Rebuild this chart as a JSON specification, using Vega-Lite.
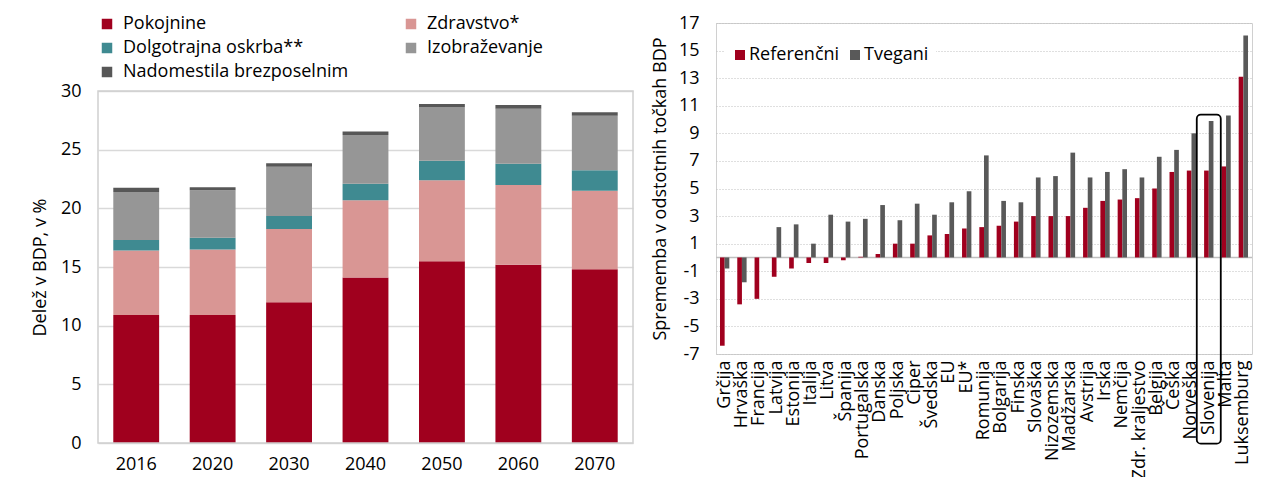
{
  "$schema": "https://vega.github.io/schema/vega-lite/v6.json",
  "padding": {"left": 31, "top": 13, "right": 0, "bottom": 0},
  "background": "white",
  "spacing": 16,
  "columns": 2,
  "config": {
    "font": "Open Sans",
    "view": {"stroke": "#d0d0d0"},
    "axis": {"labelFontSize": 18, "labelColor": "black", "titleFontSize": 18, "titleFontWeight": "normal", "titleColor": "black", "ticks": false, "domain": false},
    "legend": {"labelFontSize": 18, "labelColor": "black"}
  },
  "datasets": {
    "izdatki": [
      {"leto": "2016", "kategorija": "Pokojnine", "vrednost": 10.9},
      {"leto": "2016", "kategorija": "Zdravstvo*", "vrednost": 5.5},
      {"leto": "2016", "kategorija": "Dolgotrajna oskrba**", "vrednost": 0.9},
      {"leto": "2016", "kategorija": "Izobraževanje", "vrednost": 4.1},
      {"leto": "2016", "kategorija": "Nadomestila brezposelnim", "vrednost": 0.35},
      {"leto": "2020", "kategorija": "Pokojnine", "vrednost": 10.9},
      {"leto": "2020", "kategorija": "Zdravstvo*", "vrednost": 5.6},
      {"leto": "2020", "kategorija": "Dolgotrajna oskrba**", "vrednost": 1.0},
      {"leto": "2020", "kategorija": "Izobraževanje", "vrednost": 4.05},
      {"leto": "2020", "kategorija": "Nadomestila brezposelnim", "vrednost": 0.25},
      {"leto": "2030", "kategorija": "Pokojnine", "vrednost": 12.0},
      {"leto": "2030", "kategorija": "Zdravstvo*", "vrednost": 6.25},
      {"leto": "2030", "kategorija": "Dolgotrajna oskrba**", "vrednost": 1.1},
      {"leto": "2030", "kategorija": "Izobraževanje", "vrednost": 4.2},
      {"leto": "2030", "kategorija": "Nadomestila brezposelnim", "vrednost": 0.3},
      {"leto": "2040", "kategorija": "Pokojnine", "vrednost": 14.1},
      {"leto": "2040", "kategorija": "Zdravstvo*", "vrednost": 6.6},
      {"leto": "2040", "kategorija": "Dolgotrajna oskrba**", "vrednost": 1.4},
      {"leto": "2040", "kategorija": "Izobraževanje", "vrednost": 4.15},
      {"leto": "2040", "kategorija": "Nadomestila brezposelnim", "vrednost": 0.3},
      {"leto": "2050", "kategorija": "Pokojnine", "vrednost": 15.5},
      {"leto": "2050", "kategorija": "Zdravstvo*", "vrednost": 6.9},
      {"leto": "2050", "kategorija": "Dolgotrajna oskrba**", "vrednost": 1.65},
      {"leto": "2050", "kategorija": "Izobraževanje", "vrednost": 4.6},
      {"leto": "2050", "kategorija": "Nadomestila brezposelnim", "vrednost": 0.25},
      {"leto": "2060", "kategorija": "Pokojnine", "vrednost": 15.2},
      {"leto": "2060", "kategorija": "Zdravstvo*", "vrednost": 6.8},
      {"leto": "2060", "kategorija": "Dolgotrajna oskrba**", "vrednost": 1.8},
      {"leto": "2060", "kategorija": "Izobraževanje", "vrednost": 4.7},
      {"leto": "2060", "kategorija": "Nadomestila brezposelnim", "vrednost": 0.3},
      {"leto": "2070", "kategorija": "Pokojnine", "vrednost": 14.8},
      {"leto": "2070", "kategorija": "Zdravstvo*", "vrednost": 6.7},
      {"leto": "2070", "kategorija": "Dolgotrajna oskrba**", "vrednost": 1.75},
      {"leto": "2070", "kategorija": "Izobraževanje", "vrednost": 4.65},
      {"leto": "2070", "kategorija": "Nadomestila brezposelnim", "vrednost": 0.3}
    ],
    "spremembe": [
      {"drzava": "Grčija", "scenarij": "Referenčni", "vrednost": -6.4},
      {"drzava": "Grčija", "scenarij": "Tvegani", "vrednost": -0.8},
      {"drzava": "Hrvaška", "scenarij": "Referenčni", "vrednost": -3.4},
      {"drzava": "Hrvaška", "scenarij": "Tvegani", "vrednost": -1.8},
      {"drzava": "Francija", "scenarij": "Referenčni", "vrednost": -3.0},
      {"drzava": "Francija", "scenarij": "Tvegani", "vrednost": 0.0},
      {"drzava": "Latvija", "scenarij": "Referenčni", "vrednost": -1.4},
      {"drzava": "Latvija", "scenarij": "Tvegani", "vrednost": 2.2},
      {"drzava": "Estonija", "scenarij": "Referenčni", "vrednost": -0.8},
      {"drzava": "Estonija", "scenarij": "Tvegani", "vrednost": 2.4},
      {"drzava": "Italija", "scenarij": "Referenčni", "vrednost": -0.4},
      {"drzava": "Italija", "scenarij": "Tvegani", "vrednost": 1.0},
      {"drzava": "Litva", "scenarij": "Referenčni", "vrednost": -0.4},
      {"drzava": "Litva", "scenarij": "Tvegani", "vrednost": 3.1},
      {"drzava": "Španija", "scenarij": "Referenčni", "vrednost": -0.2},
      {"drzava": "Španija", "scenarij": "Tvegani", "vrednost": 2.6},
      {"drzava": "Portugalska", "scenarij": "Referenčni", "vrednost": 0.05},
      {"drzava": "Portugalska", "scenarij": "Tvegani", "vrednost": 2.8},
      {"drzava": "Danska", "scenarij": "Referenčni", "vrednost": 0.25},
      {"drzava": "Danska", "scenarij": "Tvegani", "vrednost": 3.8},
      {"drzava": "Poljska", "scenarij": "Referenčni", "vrednost": 1.0},
      {"drzava": "Poljska", "scenarij": "Tvegani", "vrednost": 2.7},
      {"drzava": "Ciper", "scenarij": "Referenčni", "vrednost": 1.0},
      {"drzava": "Ciper", "scenarij": "Tvegani", "vrednost": 3.9},
      {"drzava": "Švedska", "scenarij": "Referenčni", "vrednost": 1.6},
      {"drzava": "Švedska", "scenarij": "Tvegani", "vrednost": 3.1},
      {"drzava": "EU", "scenarij": "Referenčni", "vrednost": 1.7},
      {"drzava": "EU", "scenarij": "Tvegani", "vrednost": 4.0},
      {"drzava": "EU*", "scenarij": "Referenčni", "vrednost": 2.1},
      {"drzava": "EU*", "scenarij": "Tvegani", "vrednost": 4.8},
      {"drzava": "Romunija", "scenarij": "Referenčni", "vrednost": 2.2},
      {"drzava": "Romunija", "scenarij": "Tvegani", "vrednost": 7.4},
      {"drzava": "Bolgarija", "scenarij": "Referenčni", "vrednost": 2.3},
      {"drzava": "Bolgarija", "scenarij": "Tvegani", "vrednost": 4.1},
      {"drzava": "Finska", "scenarij": "Referenčni", "vrednost": 2.6},
      {"drzava": "Finska", "scenarij": "Tvegani", "vrednost": 4.0},
      {"drzava": "Slovaška", "scenarij": "Referenčni", "vrednost": 3.0},
      {"drzava": "Slovaška", "scenarij": "Tvegani", "vrednost": 5.8},
      {"drzava": "Nizozemska", "scenarij": "Referenčni", "vrednost": 3.0},
      {"drzava": "Nizozemska", "scenarij": "Tvegani", "vrednost": 5.9},
      {"drzava": "Madžarska", "scenarij": "Referenčni", "vrednost": 3.0},
      {"drzava": "Madžarska", "scenarij": "Tvegani", "vrednost": 7.6},
      {"drzava": "Avstrija", "scenarij": "Referenčni", "vrednost": 3.6},
      {"drzava": "Avstrija", "scenarij": "Tvegani", "vrednost": 5.8},
      {"drzava": "Irska", "scenarij": "Referenčni", "vrednost": 4.1},
      {"drzava": "Irska", "scenarij": "Tvegani", "vrednost": 6.2},
      {"drzava": "Nemčija", "scenarij": "Referenčni", "vrednost": 4.2},
      {"drzava": "Nemčija", "scenarij": "Tvegani", "vrednost": 6.4},
      {"drzava": "Zdr. kraljestvo", "scenarij": "Referenčni", "vrednost": 4.3},
      {"drzava": "Zdr. kraljestvo", "scenarij": "Tvegani", "vrednost": 5.8},
      {"drzava": "Belgija", "scenarij": "Referenčni", "vrednost": 5.0},
      {"drzava": "Belgija", "scenarij": "Tvegani", "vrednost": 7.3},
      {"drzava": "Češka", "scenarij": "Referenčni", "vrednost": 6.2},
      {"drzava": "Češka", "scenarij": "Tvegani", "vrednost": 7.8},
      {"drzava": "Norveška", "scenarij": "Referenčni", "vrednost": 6.3},
      {"drzava": "Norveška", "scenarij": "Tvegani", "vrednost": 9.0},
      {"drzava": "Slovenija", "scenarij": "Referenčni", "vrednost": 6.3},
      {"drzava": "Slovenija", "scenarij": "Tvegani", "vrednost": 9.9},
      {"drzava": "Malta", "scenarij": "Referenčni", "vrednost": 6.6},
      {"drzava": "Malta", "scenarij": "Tvegani", "vrednost": 10.3},
      {"drzava": "Luksemburg", "scenarij": "Referenčni", "vrednost": 13.1},
      {"drzava": "Luksemburg", "scenarij": "Tvegani", "vrednost": 16.1}
    ],
    "nicla": [{"vrednost": 0}],
    "poudarek": [{"drzava": "Slovenija", "zgoraj": 10.35, "spodaj": -13.5}]
  },
  "resolve": {"scale": {"color": "independent", "x": "independent", "y": "independent"}, "legend": {"color": "independent"}},
  "concat": [
    {
      "width": 535,
      "height": 420,
      "view": {"stroke": null},
      "resolve": {"scale": {"x": "independent"}},
      "layer": [
        {
          "data": {"name": "izdatki"},
          "transform": [
            {"calculate": "indexof(['Pokojnine', 'Zdravstvo*', 'Dolgotrajna oskrba**', 'Izobraževanje', 'Nadomestila brezposelnim'], datum.kategorija)", "as": "vrstni_red"}
          ],
          "mark": {"type": "bar"},
          "encoding": {
            "x": {"field": "leto", "type": "ordinal", "scale": {"paddingInner": 0.4, "paddingOuter": 0.2}, "axis": {"title": null, "labelAngle": 0, "labelPadding": 12}},
            "y": {"field": "vrednost", "type": "quantitative", "stack": "zero", "scale": {"domain": [0, 35.8], "nice": false}, "axis": {"title": "Delež v BDP, v %", "titleY": 244, "values": [0, 5, 10, 15, 20, 25, 30], "tickCount": 20, "grid": true, "gridColor": "#d9d9d9", "gridWidth": 1.5, "labelPadding": 17, "titlePadding": 11}},
            "order": {"field": "vrstni_red", "type": "quantitative", "sort": "ascending"},
            "color": {
              "field": "kategorija", "type": "nominal",
              "sort": ["Pokojnine", "Zdravstvo*", "Dolgotrajna oskrba**", "Izobraževanje", "Nadomestila brezposelnim"],
              "scale": {"domain": ["Pokojnine", "Zdravstvo*", "Dolgotrajna oskrba**", "Izobraževanje", "Nadomestila brezposelnim"], "range": ["#a0001e", "#d99694", "#3f8a91", "#969696", "#575757"]},
              "legend": {"title": null, "orient": "none", "legendX": 0, "legendY": -8, "direction": "horizontal", "columns": 2, "symbolType": "square", "symbolSize": 110, "symbolStrokeWidth": 0, "labelOffset": 7, "rowPadding": 6, "columnPadding": 53, "padding": 0, "labelLimit": 400}
            }
          }
        },
        {
          "data": {"values": [{}]},
          "mark": {"type": "rect", "fillOpacity": 0, "stroke": "#d0d0d0", "strokeWidth": 1.5},
          "encoding": {
            "x": {"datum": 0, "type": "quantitative", "scale": {"domain": [0, 1], "nice": false, "zero": false}, "axis": null},
            "x2": {"datum": 1},
            "y": {"datum": 0, "type": "quantitative"},
            "y2": {"datum": 30}
          }
        }
      ]
    },
    {
      "width": 536,
      "height": 331,
      "layer": [
        {
          "data": {"name": "nicla"},
          "mark": {"type": "rule", "color": "#bfbfbf", "strokeWidth": 1.5},
          "encoding": {"y": {"field": "vrednost", "type": "quantitative"}}
        },
        {
          "data": {"name": "spremembe"},
          "mark": {"type": "bar"},
          "encoding": {
            "x": {"field": "drzava", "type": "nominal", "sort": null,
              "scale": {"domain": ["Grčija", "Hrvaška", "Francija", "Latvija", "Estonija", "Italija", "Litva", "Španija", "Portugalska", "Danska", "Poljska", "Ciper", "Švedska", "EU", "EU*", "Romunija", "Bolgarija", "Finska", "Slovaška", "Nizozemska", "Madžarska", "Avstrija", "Irska", "Nemčija", "Zdr. kraljestvo", "Belgija", "Češka", "Norveška", "Slovenija", "Malta", "Luksemburg"], "paddingInner": 0.46, "paddingOuter": 0.23},
              "axis": {"title": null, "labelAngle": -90, "labelPadding": 6, "labelOverlap": false, "labelLimit": 400}},
            "xOffset": {"field": "scenarij", "type": "nominal", "scale": {"paddingInner": 0, "paddingOuter": 0}},
            "y": {"field": "vrednost", "type": "quantitative", "scale": {"domain": [-7, 17], "nice": false, "zero": false},
              "axis": {"title": "Sprememba v odstotnih točkah BDP", "values": [-7, -5, -3, -1, 1, 3, 5, 7, 9, 11, 13, 15, 17], "tickCount": 30, "labelOverlap": false, "labelExpr": "datum.value < 0 ? '-' + abs(datum.value) : '' + datum.value", "grid": true, "gridColor": "#bfbfbf", "gridDash": [1, 2], "gridWidth": 1.2, "labelPadding": 17, "titlePadding": 9}},
            "color": {"field": "scenarij", "type": "nominal",
              "scale": {"domain": ["Referenčni", "Tvegani"], "range": ["#a0001e", "#595959"]},
              "legend": {"title": null, "orient": "none", "legendX": 8, "legendY": 16, "direction": "horizontal", "fillColor": "white", "padding": 7, "symbolType": "square", "symbolSize": 100, "symbolStrokeWidth": 0, "labelOffset": 0, "columnPadding": 6}}
          }
        },
        {
          "data": {"name": "poudarek"},
          "mark": {"type": "bar", "width": 24, "cornerRadius": 4, "fillOpacity": 0, "stroke": "black", "strokeWidth": 1.8, "clip": false},
          "encoding": {
            "x": {"field": "drzava", "type": "nominal"},
            "y": {"field": "zgoraj", "type": "quantitative"},
            "y2": {"field": "spodaj"}
          }
        }
      ]
    }
  ]
}
